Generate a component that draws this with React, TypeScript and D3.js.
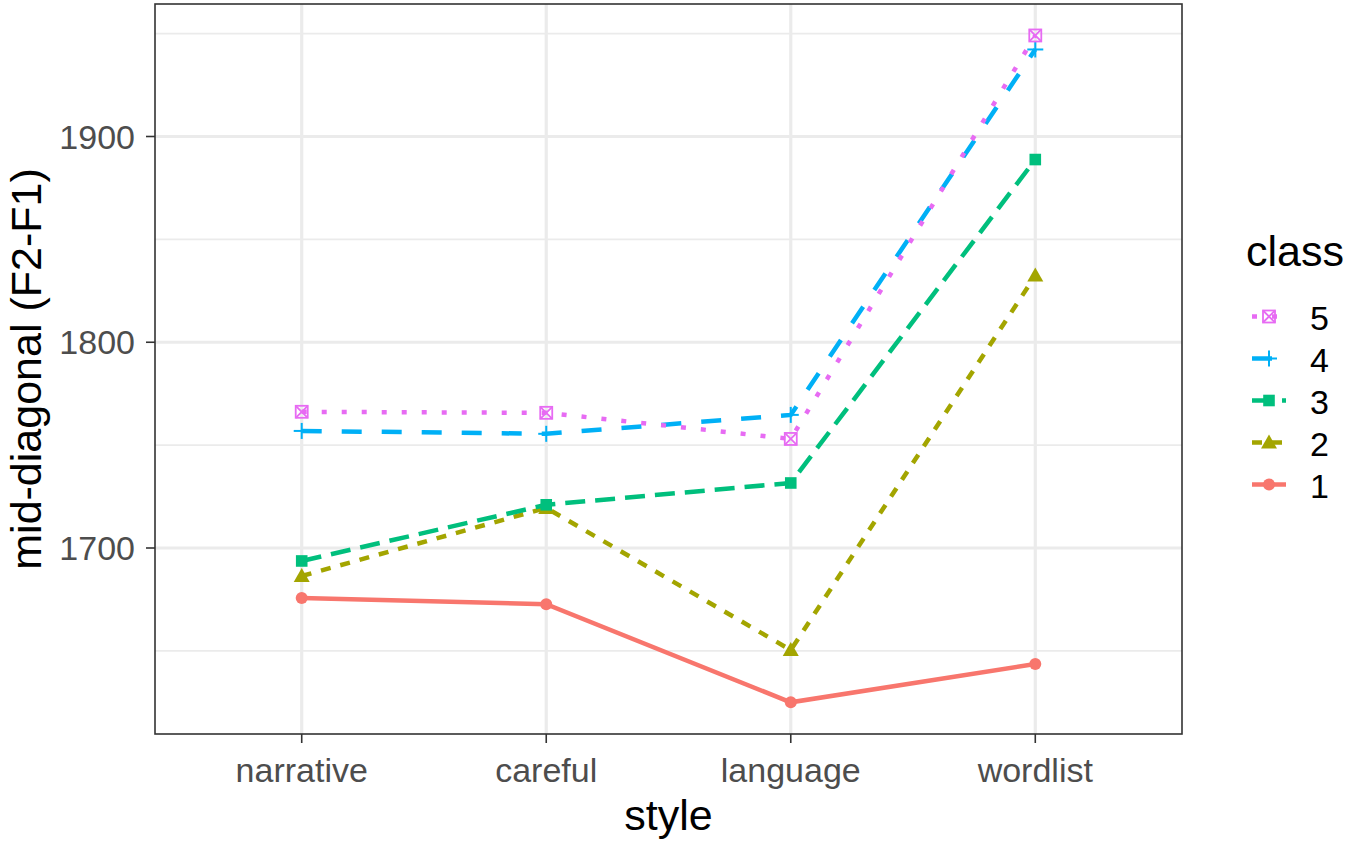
import React from "react";
import * as d3 from "d3";

const styles = ["narrative", "careful", "language", "wordlist"];
const classes = ["1", "2", "3", "4", "5"];
const class1 = [1675.7, 1672.7, 1625.0, 1643.6];
const class2 = [1686.4, 1719.5, 1650.4, 1832.4];
const class3 = [1693.7, 1721.0, 1731.6, 1888.8];
const class4 = [1756.9, 1755.5, 1764.7, 1942.3];
const class5 = [1766.2, 1765.7, 1753.0, 1949.1];
const seriesValues = [class1, class2, class3, class4, class5];
const yTicks = [1700, 1800, 1900];
const yMinor = [1650, 1750, 1850, 1950];
const colors = ["#F8766D", "#A3A500", "#00BF7D", "#00B0F6", "#E76BF3"];
const dashes = ["", "10,10", "20,10", "20,20", "5,15"];

const W = 1350, H = 844;
const L = 155, R = 1182, T = 4, B = 734;

function Marker({ i, x, y, c }: { i: number; x: number; y: number; c: string }) {
  const s = 5.8;
  if (i === 0) return <circle cx={x} cy={y} r={6} fill={c} />;
  if (i === 1) {
    return <path d={`M${x},${y - 8}L${x + 8},${y + 6}L${x - 8},${y + 6}Z`} fill={c} />;
  }
  if (i === 2) return <rect x={x - s} y={y - s} width={2 * s} height={2 * s} fill={c} />;
  if (i === 3)
    return (
      <g stroke={c} strokeWidth={2}>
        <line x1={x - 8} x2={x + 8} y1={y} y2={y} />
        <line x1={x} x2={x} y1={y - 8} y2={y + 8} />
      </g>
    );
  return (
    <g stroke={c} strokeWidth={1.8} fill="none">
      <rect x={x - 6} y={y - 6} width={12} height={12} />
      <line x1={x - 6} y1={y - 6} x2={x + 6} y2={y + 6} />
      <line x1={x - 6} y1={y + 6} x2={x + 6} y2={y - 6} />
    </g>
  );
}

export default function App() {
  const x = d3.scalePoint<string>().domain(styles).range([L, R]).padding(0.6);
  const y = d3.scaleLinear().domain([1700, 1900]).range([548, 136.5]);
  const line = d3
    .line<number>()
    .x((_, j) => x(styles[j]) as number)
    .y((d) => y(d));
  const font = "'Liberation Sans', Arial, Helvetica, sans-serif";
  const legendY = [316.5, 358.5, 400.5, 442.5, 484.5];
  return (
    <svg width={W} height={H} style={{ position: "absolute", left: 0, top: 0, fontFamily: font }}>
      <rect x={0} y={0} width={W} height={H} fill="white" />
      {yMinor.map((v) => (
        <line key={"m" + v} x1={L} x2={R} y1={y(v)} y2={y(v)} stroke="#EBEBEB" strokeWidth={1.6} />
      ))}
      {yTicks.map((v) => (
        <line key={"g" + v} x1={L} x2={R} y1={y(v)} y2={y(v)} stroke="#EBEBEB" strokeWidth={3.2} />
      ))}
      {styles.map((s) => (
        <line key={"gx" + s} x1={x(s)} x2={x(s)} y1={T} y2={B} stroke="#EBEBEB" strokeWidth={3.2} />
      ))}
      {seriesValues.map((vals, i) => (
        <path
          key={"l" + i}
          d={line(vals) as string}
          fill="none"
          stroke={colors[i]}
          strokeWidth={4.5}
          strokeDasharray={dashes[i] || undefined}
        />
      ))}
      {seriesValues.map((vals, i) =>
        vals.map((v, j) => <Marker key={`p${i}-${j}`} i={i} x={x(styles[j]) as number} y={y(v)} c={colors[i]} />)
      )}
      <rect x={L} y={T} width={R - L} height={B - T} fill="none" stroke="#333333" strokeWidth={1.6} />
      {yTicks.map((v) => (
        <g key={"t" + v}>
          <line x1={L - 9} x2={L} y1={y(v)} y2={y(v)} stroke="#333333" strokeWidth={1.6} />
          <text x={L - 20} y={y(v)} dy="0.36em" textAnchor="end" fontSize={34} fill="#4D4D4D">
            {v}
          </text>
        </g>
      ))}
      {styles.map((s) => (
        <g key={"xt" + s}>
          <line x1={x(s)} x2={x(s)} y1={B} y2={B + 9} stroke="#333333" strokeWidth={1.6} />
          <text x={x(s)} y={782} textAnchor="middle" fontSize={34} fill="#4D4D4D">
            {s}
          </text>
        </g>
      ))}
      <text x={(L + R) / 2} y={830} textAnchor="middle" fontSize={43} fill="black">
        style
      </text>
      <text
        transform={`translate(41,${(T + B) / 2}) rotate(-90)`}
        textAnchor="middle"
        fontSize={43}
        fill="black"
      >
        mid-diagonal (F2-F1)
      </text>
      <text x={1246} y={266} fontSize={43} fill="black">
        class
      </text>
      {[4, 3, 2, 1, 0].map((i, k) => (
        <g key={"lg" + i}>
          <line
            x1={1252}
            x2={1286}
            y1={legendY[k]}
            y2={legendY[k]}
            stroke={colors[i]}
            strokeWidth={4.5}
            strokeDasharray={dashes[i] || undefined}
          />
          <Marker i={i} x={1269} y={legendY[k]} c={colors[i]} />
          <text x={1310} y={legendY[k] + 13} fontSize={34} fill="black">
            {classes[i]}
          </text>
        </g>
      ))}
    </svg>
  );
}
